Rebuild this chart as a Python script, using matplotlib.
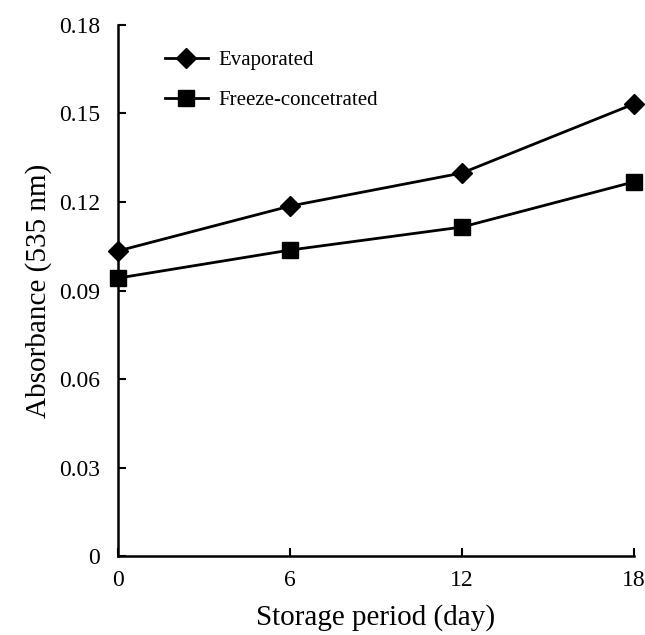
import numpy as np
import matplotlib.pyplot as plt

days = [0, 6, 12, 18]
evaporated = [0.1034, 0.1186, 0.1298, 0.1532]
freeze = [0.0942, 0.1037, 0.1115, 0.1268]
yticks = [0, 0.03, 0.06, 0.09, 0.12, 0.15, 0.18]
ytick_labels = ['0', '0.03', '0.06', '0.09', '0.12', '0.15', '0.18']

plt.rcParams['font.family'] = ['Liberation Serif', 'DejaVu Serif']

fig = plt.figure(figsize=(6.45, 6.35), dpi=100)
ax = fig.add_axes([0.183, 0.124, 0.800, 0.837])

ax.plot(days, evaporated, 'k-', marker='D', markersize=10, linewidth=2, label='Evaporated')
ax.plot(days, freeze, 'k-', marker='s', markersize=11, linewidth=2, label='Freeze-concetrated')

ax.set_xlim(0, 18)
ax.set_ylim(0, 0.18)
ax.set_xticks(days)
ax.set_yticks(yticks)
ax.set_yticklabels(ytick_labels)
ax.tick_params(direction='in', length=6, width=1.5, labelsize=17)
ax.tick_params(axis='y', pad=13)
ax.tick_params(axis='x', pad=10)
for s in ['top', 'right']:
    ax.spines[s].set_visible(False)
for s in ['left', 'bottom']:
    ax.spines[s].set_linewidth(1.8)
for line in ax.get_lines():
    line.set_clip_on(False)

ax.set_xlabel('Storage period (day)', fontsize=21, labelpad=9)
ax.set_ylabel('Absorbance (535 nm)', fontsize=21, labelpad=5)

ax.legend(loc='upper left', bbox_to_anchor=(0.091, 0.952), frameon=False,
          fontsize=15, handlelength=2.06, labelspacing=1.0, handletextpad=0.48,
          borderpad=0, borderaxespad=0)

fig.savefig('out.png', dpi=100)
